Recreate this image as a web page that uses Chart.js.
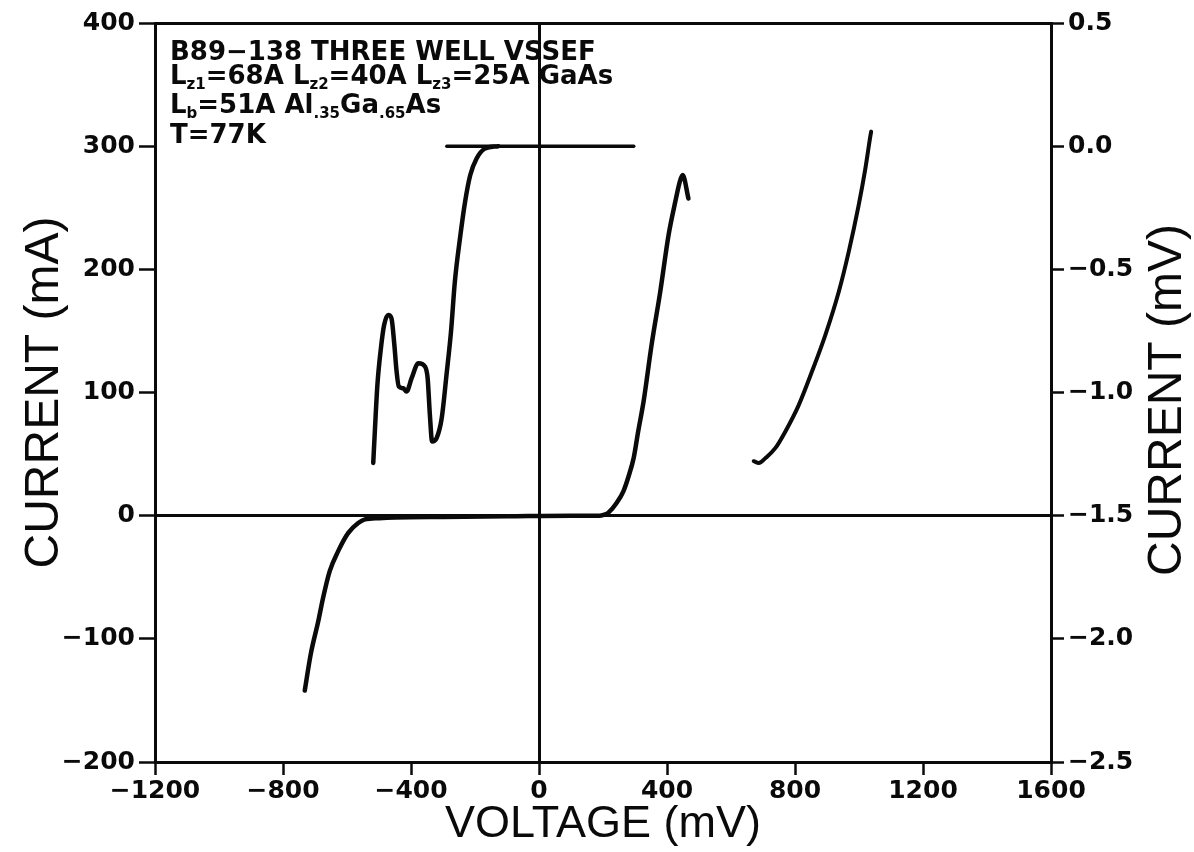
<!DOCTYPE html>
<html>
<head>
<meta charset="utf-8">
<script src="https://cdn.jsdelivr.net/npm/chart.js@4.4.1/dist/chart.umd.min.js"></script>
<style>
  html, body { margin: 0; padding: 0; background: #ffffff; }
  #wrap { width: 1194px; height: 852px; }
</style>
</head>
<body>
<div id="wrap"><canvas id="c" width="1194" height="852"></canvas></div>
<script>
// Current-voltage sweep, left axis (mA)
const ivVoltage = [-732, -713, -690, -675, -654, -628, -596, -565, -544, -500, -450, -300, -100, 100, 190, 207, 217, 243, 264, 280, 296, 310, 327, 352, 379, 405, 426, 441, 449, 467];
const ivCurrent = [-142, -112, -86, -67, -45, -29, -14, -6, -3, -2, -1.5, -1, -0.5, 0, 0, 1, 2.5, 10.5, 20, 32, 47, 68.5, 93, 139, 182, 228, 255, 272, 276.5, 257.5];

// Resonance trace, right axis (mV)
const resVoltage = [-518, -513, -505, -494, -484, -471, -461, -452, -445, -438, -424, -414, -398, -377, -356, -348, -341, -334, -320, -304, -289, -275, -263, -247, -231, -215, -195, -169, -127];
const resSignal = [-1.286, -1.158, -0.969, -0.820, -0.726, -0.685, -0.699, -0.807, -0.915, -0.976, -0.983, -0.996, -0.942, -0.881, -0.895, -0.942, -1.091, -1.199, -1.185, -1.104, -0.928, -0.753, -0.551, -0.375, -0.226, -0.118, -0.050, -0.010, 0];

// Baseline of the right-axis trace
const baseVoltage = [-288, 296];
const baseSignal = [0, 0];

// High-bias branch, right axis (mV)
const highVoltage = [671, 687, 708, 739, 770, 812, 853, 895, 937, 968, 999, 1020, 1036, 1038];
const highSignal = [-1.279, -1.286, -1.266, -1.225, -1.158, -1.050, -0.915, -0.766, -0.590, -0.428, -0.239, -0.090, 0.045, 0.059];

// Tick values
const voltageTicks = [-1200, -800, -400, 0, 400, 800, 1200, 1600];
const currentTicks = [-200, -100, 0, 100, 200, 300, 400];
const signalTicks = [-2.5, -2.0, -1.5, -1.0, -0.5, 0.0, 0.5];

// Sample description block (runs of [text, isSubscript])
const noteLines = [
  [['B89\u2212138 THREE WELL VSSEF', 0]],
  [['L', 0], ['z1', 1], ['=68A L', 0], ['z2', 1], ['=40A L', 0], ['z3', 1], ['=25A GaAs', 0]],
  [['L', 0], ['b', 1], ['=51A Al', 0], ['.35', 1], ['Ga', 0], ['.65', 1], ['As', 0]],
  [['T=77K', 0]]
];

const INK = '#0a0a0a';
const tickFont = { family: "'DejaVu Sans'", size: 25, weight: 'bold' };
const titleFont = { family: "'Liberation Sans'", size: 48, weight: 'normal' };
const xTitleFont = { family: "'Liberation Sans'", size: 45, weight: 'normal' };

const pairs = (xs, ys) => xs.map((x, i) => ({ x: x, y: ys[i] }));
const minus = s => s.replace('-', '\u2212');

const lineStyle = {
  borderColor: INK,
  borderWidth: 4.5,
  pointRadius: 0,
  fill: false,
  cubicInterpolationMode: 'monotone',
  borderCapStyle: 'round',
  borderJoinStyle: 'round'
};

const notePlugin = {
  id: 'notes',
  afterDraw(chart) {
    const ctx = chart.ctx;
    ctx.save();
    ctx.fillStyle = INK;
    ctx.textBaseline = 'alphabetic';
    ctx.textAlign = 'left';
    const baselines = [60, 84, 113, 143];
    noteLines.forEach((runs, i) => {
      let x = 170;
      runs.forEach(([t, sub]) => {
        ctx.font = sub ? "bold 15px 'DejaVu Sans'" : "bold 26px 'DejaVu Sans'";
        ctx.fillText(t, x, baselines[i] + (sub ? 5 : 0));
        x += ctx.measureText(t).width;
      });
    });
    // right-hand axis title, reading upward
    ctx.font = "normal 48px 'Liberation Sans'";
    ctx.textAlign = 'center';
    ctx.textBaseline = 'middle';
    ctx.translate(1168, 400);
    ctx.rotate(-Math.PI / 2);
    ctx.fillText('CURRENT (mV)', 0, 0);
    ctx.restore();
  }
};

new Chart(document.getElementById('c'), {
  type: 'line',
  data: {
    datasets: [
      Object.assign({ label: 'I-V', data: pairs(ivVoltage, ivCurrent), yAxisID: 'y' }, lineStyle),
      Object.assign({ label: 'resonance', data: pairs(resVoltage, resSignal), yAxisID: 'y2' }, lineStyle),
      Object.assign({ label: 'baseline', data: pairs(baseVoltage, baseSignal), yAxisID: 'y2' }, lineStyle, { borderWidth: 3.5 }),
      Object.assign({ label: 'high bias', data: pairs(highVoltage, highSignal), yAxisID: 'y2' }, lineStyle, { borderWidth: 4 })
    ]
  },
  options: {
    responsive: false,
    animation: false,
    devicePixelRatio: 1,
    layout: { padding: 0 },
    plugins: { legend: { display: false }, tooltip: { enabled: false } },
    scales: {
      x: {
        type: 'linear', position: 'bottom', min: -1200, max: 1600,
        afterBuildTicks: s => { s.ticks = voltageTicks.map(v => ({ value: v })); },
        afterFit: s => { s.height = 90; },
        ticks: { color: INK, font: tickFont, padding: 1, autoSkip: false, maxRotation: 0,
                 callback: v => minus(String(v)) },
        grid: { drawOnChartArea: true, drawTicks: true, tickLength: 13, tickWidth: 2.5, tickColor: INK,
                lineWidth: 3, color: c => (c.tick && c.tick.value === 0) ? INK : 'rgba(0,0,0,0)' },
        border: { display: true, color: INK, width: 3 },
        title: { display: true, text: 'VOLTAGE (mV)', color: INK, font: xTitleFont, padding: { top: 0, bottom: 0 } }
      },
      xTop: {
        type: 'linear', position: 'top', min: -1200, max: 1600,
        afterFit: s => { s.height = 23; },
        ticks: { display: false },
        grid: { drawOnChartArea: false, drawTicks: false },
        border: { display: true, color: INK, width: 3 }
      },
      y: {
        type: 'linear', position: 'left', min: -200, max: 400,
        afterBuildTicks: s => { s.ticks = currentTicks.map(v => ({ value: v })); },
        afterFit: s => { s.width = 155; },
        ticks: { color: INK, font: tickFont, padding: 4, callback: v => minus(String(v)) },
        grid: { drawOnChartArea: true, drawTicks: true, tickLength: 16, tickWidth: 2.5, tickColor: INK,
                lineWidth: 3, color: c => (c.tick && c.tick.value === 0) ? INK : 'rgba(0,0,0,0)' },
        border: { display: true, color: INK, width: 3 },
        title: { display: true, text: 'CURRENT (mA)', color: INK, font: titleFont, padding: { top: 16, bottom: 0 } }
      },
      y2: {
        type: 'linear', position: 'right', min: -2.5, max: 0.5,
        afterBuildTicks: s => { s.ticks = signalTicks.map(v => ({ value: v })); },
        afterFit: s => { s.width = 143; },
        ticks: { color: INK, font: tickFont, padding: 4, callback: v => minus(Number(v).toFixed(1)) },
        grid: { drawOnChartArea: false, drawTicks: true, tickLength: 13, tickWidth: 2.5, tickColor: INK },
        border: { display: true, color: INK, width: 3 }
      }
    }
  },
  plugins: [notePlugin]
});
</script>
</body>
</html>
